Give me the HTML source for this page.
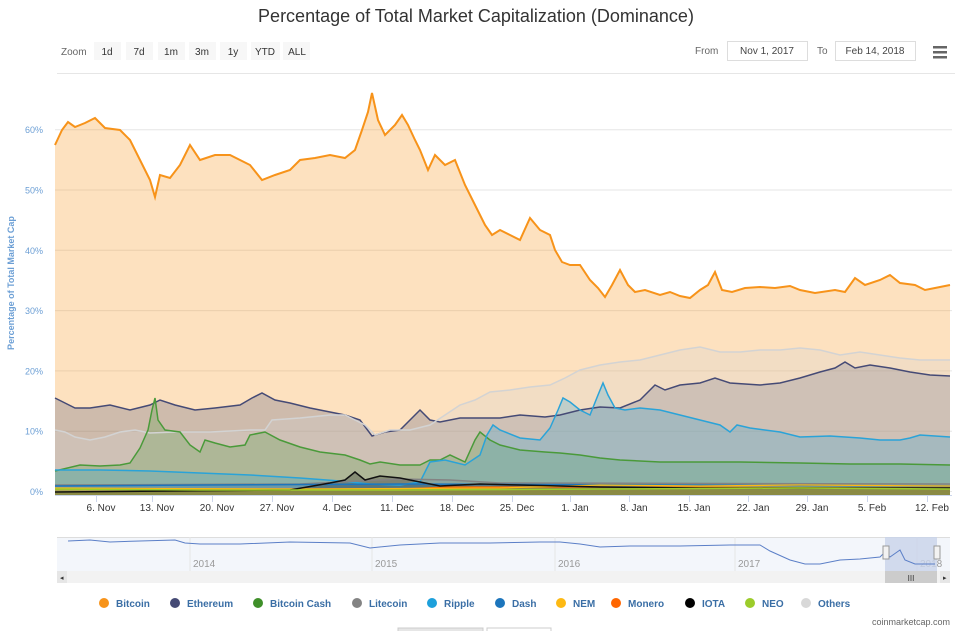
<!DOCTYPE html>
<html><head><meta charset="utf-8"><style>
body{margin:0;background:#fff;font-family:"Liberation Sans",sans-serif;}
svg text{font-family:"Liberation Sans",sans-serif;}
</style></head><body>
<svg id="s" width="973" height="631" xmlns="http://www.w3.org/2000/svg">
<rect width="973" height="631" fill="#fff"/>
<text x="476" y="22" text-anchor="middle" font-size="18" fill="#333">Percentage of Total Market Capitalization (Dominance)</text>
<text x="61" y="55" font-size="10" fill="#666">Zoom</text>
<g font-size="10" fill="#333" text-anchor="middle">
<rect x="94" y="42" width="27" height="18" fill="#f7f7f7"/><text x="107" y="55">1d</text>
<rect x="126" y="42" width="27" height="18" fill="#f7f7f7"/><text x="139" y="55">7d</text>
<rect x="158" y="42" width="27" height="18" fill="#f7f7f7"/><text x="171" y="55">1m</text>
<rect x="189" y="42" width="27" height="18" fill="#f7f7f7"/><text x="202" y="55">3m</text>
<rect x="220" y="42" width="27" height="18" fill="#f7f7f7"/><text x="233" y="55">1y</text>
<rect x="251" y="42" width="29" height="18" fill="#f7f7f7"/><text x="265" y="55">YTD</text>
<rect x="283" y="42" width="27" height="18" fill="#f7f7f7"/><text x="297" y="55">ALL</text>
</g>
<text x="695" y="54" font-size="10" fill="#666">From</text>
<rect x="727.5" y="41.5" width="80" height="19" fill="#fff" stroke="#ddd"/>
<text x="767" y="54" font-size="10" fill="#444" text-anchor="middle">Nov 1, 2017</text>
<text x="817" y="54" font-size="10" fill="#666">To</text>
<rect x="835.5" y="41.5" width="80" height="19" fill="#fff" stroke="#ddd"/>
<text x="875" y="54" font-size="10" fill="#444" text-anchor="middle">Feb 14, 2018</text>
<g fill="#666"><rect x="933" y="46" width="14" height="2.5"/><rect x="933" y="51" width="14" height="2.5"/><rect x="933" y="56" width="14" height="2.5"/></g>
<line x1="57" y1="73.5" x2="955" y2="73.5" stroke="#e6e6e6"/>
<g id="grid" stroke="#e6e6e6"></g>
<g id="yl" font-size="9" fill="#6c9fd5" text-anchor="end"></g>
<text transform="translate(14,283) rotate(-90)" font-size="9" font-weight="bold" fill="#6c9fd5" text-anchor="middle">Percentage of Total Market Cap</text>
<g id="series"></g>
<line x1="55" y1="495.5" x2="952" y2="495.5" stroke="#ccd6eb"/>
<g id="xl" font-size="10" fill="#333" text-anchor="middle"></g>
<!-- navigator -->
<rect x="57" y="537" width="893" height="34" fill="#f3f6fb"/>
<line x1="57" y1="537.5" x2="950" y2="537.5" stroke="#ddd"/>
<g stroke="#e6e6e6"><line x1="190" y1="537" x2="190" y2="571"/><line x1="372" y1="537" x2="372" y2="571"/><line x1="555" y1="537" x2="555" y2="571"/><line x1="735" y1="537" x2="735" y2="571"/><line x1="917" y1="537" x2="917" y2="571"/></g>
<g font-size="10" fill="#999"><text x="193" y="567">2014</text><text x="375" y="567">2015</text><text x="558" y="567">2016</text><text x="738" y="567">2017</text><text x="920" y="567">2018</text></g>
<rect x="885" y="537" width="52" height="34" fill="#c8d3ea" opacity="0.8"/>
<polyline fill="none" stroke="#5b7fc7" stroke-width="1" points="68,541 90,540 110,542 140,541 175,540 185,543 200,544 240,544 290,542 350,543 370,548 400,545 440,543 490,543 540,542 560,542 580,544 600,547 630,546 680,546 730,545 760,545 770,551 790,560 805,564 820,564 840,560 860,559 880,557 885,552 890,557 900,550 905,560 915,564 935,564"/>
<rect x="883" y="546" width="6" height="13" fill="#f2f2f2" stroke="#999"/>
<rect x="934" y="546" width="6" height="13" fill="#f2f2f2" stroke="#999"/>
<rect x="57" y="571" width="893" height="12" fill="#f2f2f2"/>
<rect x="885" y="571" width="52" height="12" fill="#ccc"/>
<text x="911" y="581" font-size="8" fill="#333" text-anchor="middle">III</text>
<rect x="57" y="571" width="10" height="12" fill="#e6e6e6"/><text x="60" y="580" font-size="7" fill="#333">◂</text>
<rect x="940" y="571" width="10" height="12" fill="#e6e6e6"/><text x="943" y="580" font-size="7" fill="#333">▸</text>
<g id="leg" font-size="10" font-weight="bold" fill="#3a6ea5"></g>
<text x="950" y="625" font-size="9" fill="#666" text-anchor="end">coinmarketcap.com</text>
<rect x="398" y="628" width="85" height="5" fill="#e6e6e6" stroke="#ccc"/>
<rect x="487" y="628" width="64" height="5" fill="#fff" stroke="#ccc"/>
</svg>
<script>
var NS="http://www.w3.org/2000/svg",s=document.getElementById('series');
function el(t,a,p){var e=document.createElementNS(NS,t);for(var k in a)e.setAttribute(k,a[k]);(p||s).appendChild(e);return e;}
var g=document.getElementById('grid'),yl=document.getElementById('yl');
for(var i=0;i<=6;i++){var y=491-60.3*i;el('line',{x1:55,x2:952,y1:y+.5,y2:y+.5},g);var t=el('text',{x:43,y:y+4},yl);t.textContent=(i*10)+'%';}
var xs=[[101,'6. Nov'],[157,'13. Nov'],[217,'20. Nov'],[277,'27. Nov'],[337,'4. Dec'],[397,'11. Dec'],[457,'18. Dec'],[517,'25. Dec'],[575,'1. Jan'],[634,'8. Jan'],[694,'15. Jan'],[753,'22. Jan'],[812,'29. Jan'],[872,'5. Feb'],[932,'12. Feb']];
var xl=document.getElementById('xl');
xs.forEach(function(a){el('line',{x1:a[0]-4.5,x2:a[0]-4.5,y1:496,y2:502,stroke:'#ccd6eb'},xl);var t=el('text',{x:a[0],y:511},xl);t.textContent=a[1];});
function P(str){return str.trim().split(/\s+/).map(function(q){return q.split(',').map(Number);});}
var S=[
['#f7931a',P("55,145 62,130 68,122 75,127 85,123 95,118 105,128 120,130 130,140 140,160 150,180 155,197 160,175 170,178 180,165 190,145 200,160 215,155 230,155 240,160 250,165 262,180 275,175 290,170 300,160 315,158 330,155 345,158 355,150 362,130 368,112 372,93 378,120 385,135 395,125 402,115 408,125 415,140 420,150 428,170 435,155 445,165 455,160 465,185 475,205 485,225 492,235 500,230 510,235 520,240 530,218 540,230 550,235 555,250 562,262 570,265 580,265 590,280 598,288 605,297 612,285 620,270 628,285 635,292 645,290 660,295 670,292 680,296 690,298 700,290 708,285 715,272 722,290 732,292 745,288 760,287 775,288 790,286 800,290 815,293 835,290 845,292 855,278 865,285 880,280 890,275 900,283 915,285 925,290 935,288 950,285"),2],
['#454a75',P("55,398 65,403 75,408 90,408 110,405 130,410 150,405 160,400 175,405 195,410 215,408 240,405 252,398 262,393 275,400 290,403 310,408 330,412 345,415 360,420 372,436 385,432 400,430 415,415 420,410 430,420 440,422 460,418 480,418 500,418 520,415 545,417 560,415 580,410 600,407 620,408 640,400 655,385 665,390 680,385 700,383 715,378 730,383 760,385 780,383 800,378 820,372 835,368 845,362 855,368 870,365 890,368 910,372 930,375 950,376"),1.5],
['#d3d3d3',P("55,430 65,432 75,437 90,440 105,437 120,432 135,430 150,433 175,432 210,432 250,430 265,430 272,420 300,418 330,415 345,415 365,425 375,435 390,430 410,430 430,425 445,415 460,405 475,400 490,392 510,390 530,387 550,385 565,378 580,370 600,365 620,362 640,360 660,355 680,350 700,347 720,352 740,352 760,350 780,350 800,348 820,350 840,355 860,352 880,355 900,358 920,360 950,360"),1.5],
['#4a9a3a',P("55,471 80,465 100,466 120,465 130,463 140,448 148,430 152,410 155,398 158,420 165,430 180,432 190,445 200,452 205,440 215,443 230,447 245,445 250,435 265,432 280,440 300,447 320,452 345,455 360,460 370,464 380,462 400,465 420,465 430,460 440,460 450,455 465,462 475,440 480,432 490,440 500,445 520,450 545,452 560,453 580,455 600,458 620,460 660,462 700,462 740,462 800,463 850,464 900,464 950,465"),1.5],
['#2aa3d8',P("55,470 100,470 150,471 200,473 250,475 300,478 340,481 370,484 400,485 420,482 430,462 445,460 465,465 480,455 487,435 493,425 500,430 520,438 540,440 550,428 558,410 563,398 570,402 580,410 590,415 598,395 603,383 608,395 615,408 625,410 640,408 660,410 680,415 700,420 720,425 730,432 737,425 750,428 780,432 800,437 830,436 860,438 880,440 900,440 910,438 920,435 950,437"),1.5],
['#838383',P("55,485 300,484 400,479 450,480 500,483 950,484"),1.5],
['#1c75bc',P("55,486 200,485 400,484 950,486"),1.5],
['#ff6600',P("55,489 400,489 450,487 600,487 950,488"),1.2],
['#fdb913',P("55,488 300,489 500,488 600,485 700,486 800,485 950,486"),1.2],
['#111',P("55,492 290,490 330,483 345,480 355,472 365,480 380,476 400,478 420,482 440,486 480,484 520,485 600,487 700,488 950,488"),1.5],
['#9ccc2b',P("55,489 200,490 400,490 600,489 800,488 950,489"),1.5]
];
S.forEach(function(a){var pts=a[1].map(function(p){return p.join(',');}).join(' ');
el('polygon',{points:'55,495 '+pts+' 950,495',fill:a[0],'fill-opacity':a[0]=='#f7931a'?0.28:0.25,stroke:'none'});});
S.forEach(function(a){var pts=a[1].map(function(p){return p.join(',');}).join(' ');
el('polyline',{points:pts,fill:'none',stroke:a[0],'stroke-width':a[2]});});
var L=[['#f7931a',104,'Bitcoin'],['#454a75',175,'Ethereum'],['#3f8f29',258,'Bitcoin Cash'],['#838383',357,'Litecoin'],['#1da0db',432,'Ripple'],['#1c75bc',500,'Dash'],['#fdb913',561,'NEM'],['#ff6600',616,'Monero'],['#000',690,'IOTA'],['#9ccc2b',750,'NEO'],['#d8d8d8',806,'Others']];
var lg=document.getElementById('leg');
L.forEach(function(a){el('circle',{cx:a[1],cy:603,r:5,fill:a[0]},lg);var t=el('text',{x:a[1]+12,y:607},lg);t.textContent=a[2];});
</script>
</body></html>
